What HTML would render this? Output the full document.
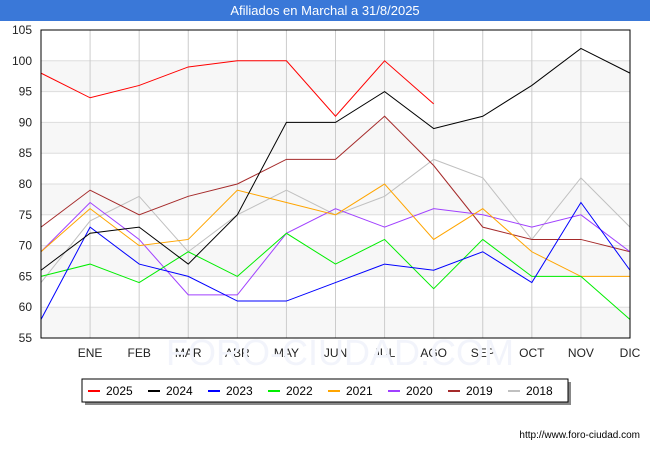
<!DOCTYPE html>
<html><head><meta charset="utf-8"><style>
body{margin:0;background:#fff;font-family:"Liberation Sans",sans-serif;}
</style></head><body>
<svg width="650" height="450" xmlns="http://www.w3.org/2000/svg" font-family="Liberation Sans, sans-serif">
<rect x="0" y="0" width="650" height="450" fill="#fff"/>
<rect x="0" y="0" width="650" height="21" fill="#3a78d8"/>
<text x="325" y="15" text-anchor="middle" fill="#fff" font-size="13">Afiliados en Marchal a 31/8/2025</text>
<g id="bands"></g>
<g id="grid"></g>
<g id="ylabels" font-size="12" fill="#222"></g>
<g id="xlabels" font-size="12" fill="#222"></g>
<text x="340" y="365" text-anchor="middle" font-size="36" fill="#f2f4fb">FORO-CIUDAD.COM</text>
<g id="series"></g>
<rect x="41" y="30" width="589" height="308" fill="none" stroke="#000" stroke-width="1"/>
<rect x="85" y="382" width="486" height="23" fill="#888"/>
<rect x="82" y="379" width="486" height="23" fill="#fff" stroke="#000"/>
<g id="legend" font-size="12" fill="#000"></g>
<text x="640" y="438" text-anchor="end" font-size="10" fill="#000">http://www.foro-ciudad.com</text>
</svg>
<script>
const months=["","ENE","FEB","MAR","ABR","MAY","JUN","JUL","AGO","SEP","OCT","NOV","DIC"];
const yTicks=[55,60,65,70,75,80,85,90,95,100,105];
const seriesNames=["2025","2024","2023","2022","2021","2020","2019","2018"];
const seriesColors=["#ff0000","#000000","#0000ff","#00ee00","#ffa500","#a040ff","#a52a2a","#c0c0c0"];
const s2025=[98,94,96,99,100,100,91,100,93];
const s2024=[66,72,73,67,75,90,90,95,89,91,96,102,98];
const s2023=[58,73,67,65,61,61,64,67,66,69,64,77,66];
const s2022=[65,67,64,69,65,72,67,71,63,71,65,65,58];
const s2021=[69,76,70,71,79,77,75,80,71,76,69,65,65];
const s2020=[69,77,71,62,62,72,76,73,76,75,73,75,69];
const s2019=[73,79,75,78,80,84,84,91,83,73,71,71,69];
const s2018=[64,74,78,69,75,79,75,78,84,81,71,81,73];
const seriesData=[s2025,s2024,s2023,s2022,s2021,s2020,s2019,s2018];
const NS="http://www.w3.org/2000/svg";
const X0=41,X1=630,Y0=338,Y1=30,YMIN=55,YMAX=105;
const xs=i=>X0+i*(X1-X0)/12;
const ys=v=>Y0-(v-YMIN)*(Y0-Y1)/(YMAX-YMIN);
function mk(tag,attrs,parent,txt){const e=document.createElementNS(NS,tag);for(const k in attrs)e.setAttribute(k,attrs[k]);if(txt!==undefined)e.textContent=txt;document.getElementById(parent).appendChild(e);return e;}
for(let i=0;i<yTicks.length-1;i++){
  if(i%2===0){const r=mk('rect',{x:X0,y:ys(yTicks[i+1]),width:X1-X0,height:ys(yTicks[i])-ys(yTicks[i+1]),fill:'#f7f7f7'},'bands');
  
  }
}
yTicks.forEach(t=>{
  const l=mk('line',{x1:X0,x2:X1,y1:ys(t),y2:ys(t),stroke:'#dddddd'},'grid');
  
  
  const tx=mk('text',{x:X0-9,y:ys(t)+4,'text-anchor':'end'},'ylabels',String(t));
  
  
});
months.forEach((m,i)=>{
  if(i===0)return;
  const l=mk('line',{x1:xs(i),x2:xs(i),y1:Y1,y2:Y0,stroke:'#cccccc'},'grid');
  
  
  const tx=mk('text',{x:xs(i),y:357,'text-anchor':'middle'},'xlabels',m);
  
  
});
for(let k=seriesData.length-1;k>=0;k--){
  const pts=seriesData[k].map((v,i)=>xs(i)+','+ys(v)).join(' ');
  const p=mk('polyline',{points:pts,fill:'none',stroke:seriesColors[k],'stroke-width':1},'series');
  
  
}
seriesNames.forEach((n,k)=>{
  const x=88+k*60;
  const l=mk('line',{x1:x,x2:x+12,y1:391,y2:391,stroke:seriesColors[k],'stroke-width':2},'legend');
  
  
  const t=mk('text',{x:x+18,y:395},'legend',n);
  
  
});
</script>
</body></html>
